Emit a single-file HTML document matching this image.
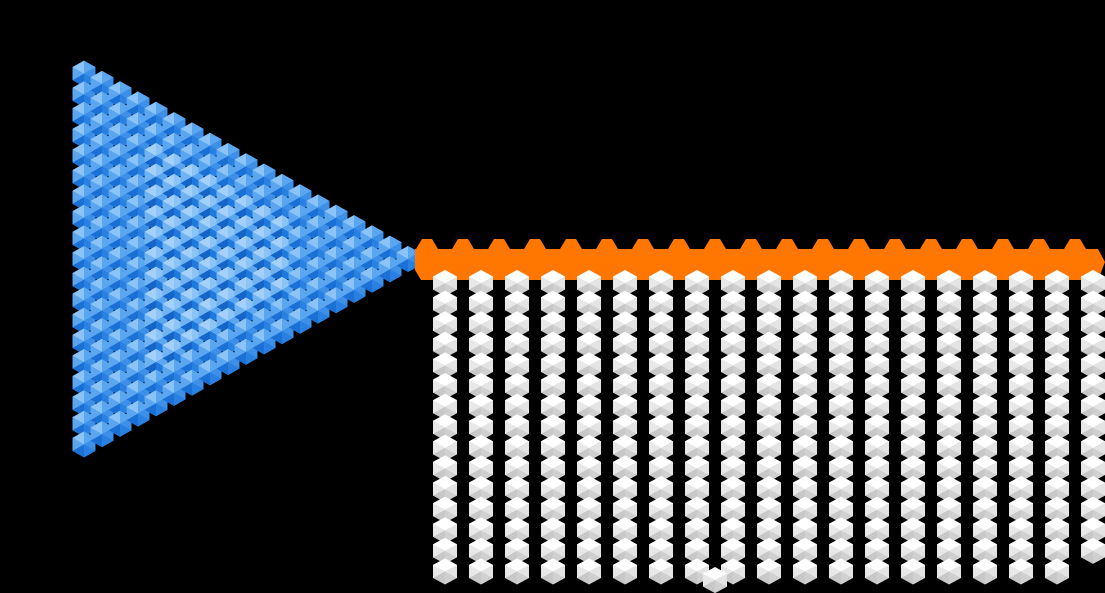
<!DOCTYPE html>
<html><head><meta charset="utf-8"><style>html,body{margin:0;padding:0;background:#000;width:1105px;height:593px;overflow:hidden}</style></head>
<body>
<svg id="s" width="1105" height="593" xmlns="http://www.w3.org/2000/svg" style="display:block;background:#000"></svg>
<script>
var s=document.getElementById('s'),h='';
function hex(cx,cy,w,ht,c){
 var a=w/2,b=ht/2,q=ht/4;
 var P=[[cx,cy-b],[cx+a,cy-q],[cx+a,cy+q],[cx,cy+b],[cx-a,cy+q],[cx-a,cy-q]];
 var out='<polygon points="'+P.map(p=>p.join(',')).join(' ')+'" fill="'+c[0]+'"/>';
 for(var i=0;i<6;i++){var p1=P[i],p2=P[(i+1)%6];
  if(c[i+1]) out+='<polygon points="'+cx+','+cy+' '+p1.join(',')+' '+p2.join(',')+'" fill="'+c[i+1]+'"/>';}
 return out;
}
// blue triangle
for(var i=0;i<=18;i++){
 var x=84+18*i, n=19-i;
 for(var j=0;j<n;j++){
  var y=259+20.6*(j-(n-1)/2);
  var inner=(i>3&&i<12&&j>1&&j<n-2);
  var c=inner?['#3d8fe8','#8cc4f7','#5aa6f0','#1f78dc','#1565c8','#6fb3f3','#a5d0fa']
            :['#3d8fe8','#5aa6f0','#3d8fe8','#2a80e0','#1a70d5','#5aa6f0','#8cc4f7'];
  h+=hex(x,y,23,26,c);
 }
}
// orange bar
var pts='415,249 ';
for(var k=0;k<19;k++){var cx=427+36*k;pts+=(cx-11)+',249 '+(cx-5)+',239 '+(cx+5)+',239 '+(cx+11)+',249 ';}
pts+='1098,249 1105,262 1098,280 421,280 415,270';
h+='<polygon points="'+pts+'" fill="#ff7700"/>';
// white chains
var wc=['#ffffff',null,'#e4e4e4','#d0d0d0','#c8c8c8','#e8e8e8',null];
for(var k=0;k<19;k++){
 var x=445+36*k, n=(k==18)?14:15;
 for(var j=0;j<n;j++) h+=hex(x,283+20.6*j,24,26,wc);
}
h+=hex(715,580,24,26,wc);
s.innerHTML=h;
</script>
</body></html>
